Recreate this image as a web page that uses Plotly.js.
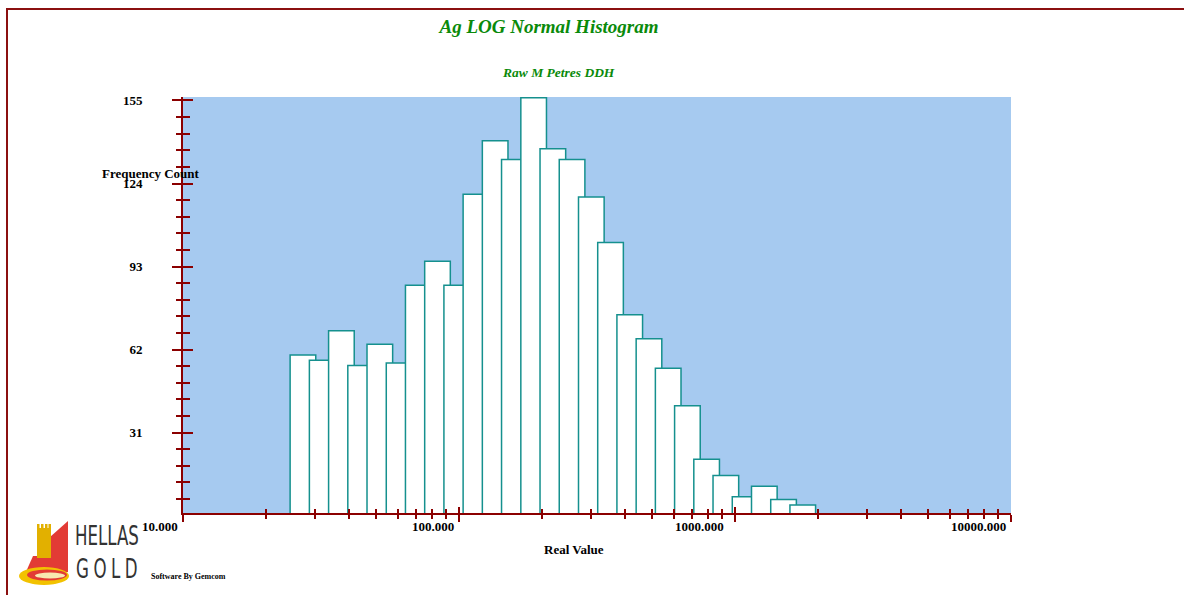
<!DOCTYPE html>
<html>
<head>
<meta charset="utf-8">
<script src="https://cdn.plot.ly/plotly-3.0.1.min.js"></script>
<style>
  html, body { margin: 0; padding: 0; background: #ffffff; }
  #wrap { position: relative; width: 1184px; height: 595px; }
  #chart { width: 1184px; height: 595px; }
  #frame { position: absolute; left: 6px; top: 8px; right: 0; bottom: 0;
           border-top: 2px solid #8B1010; border-left: 2px solid #8B1010;
           pointer-events: none; }
</style>
</head>
<body>
<div id="wrap">
  <div id="chart"></div>
  <div id="frame"></div>
</div>
<script>
// ---- data ----
const binLow = [24.44, 28.70, 33.69, 39.55, 46.42, 54.51, 63.97, 75.10, 88.18,
                103.5, 121.5, 142.6, 167.5, 196.6, 230.8, 271.0, 318.1, 373.4,
                438.4, 514.6, 604.1, 709.2, 832.5, 977.5, 1147.6, 1347.2, 1581.5];
const counts = [60, 58, 69, 56, 64, 57, 86, 95, 86,
                120, 140, 133, 156, 137, 133, 119, 102, 75,
                66, 55, 41, 21, 15, 7, 11, 6, 4];
const xTickVals = [10, 100, 1000, 10000];
const xTickText = ['10.000', '100.000', '1000.000', '10000.000'];
const yTickVals = [31, 62, 93, 124, 155];
const yTickText = ['31', '62', '93', '124', '155'];

const titleText = 'Ag LOG Normal Histogram';
const subtitleText = 'Raw M Petres DDH';
const xTitle = 'Real Value';
const yTitle = 'Frequency Count';

// ---- layout helpers ----
const W = 1184, H = 595;
const M = {l: 183, r: 173, t: 97, b: 82};
const PW = W - M.l - M.r, PH = H - M.t - M.b;
const px2paperX = px => (px - M.l) / PW;
const py2paperY = py => (H - M.b - py) / PH;

const axisRed = '#8B0000';
const serif = 'Liberation Serif, Times New Roman, serif';
const narrow = 'Liberation Sans Narrow, DejaVu Sans Condensed, Arial Narrow, sans-serif';
const green = '#0A8A0A';

const barSpanDecades = 0.0929;   // drawn bar width (bars overlap slightly)
const widths = binLow.map(v => v * (Math.pow(10, barSpanDecades) - 1));
const xLabelShift = [-3, -3, -9, -3];

const xMinor = [];
for (let d = 0; d < xTickVals.length - 1; d++) {
  for (let k = 2; k <= 9; k++) xMinor.push(k * xTickVals[d]);
}
const yStep = yTickVals[0] / 5;
const yMinor = [];
for (let i = 1; i * yStep < yTickVals[yTickVals.length - 1]; i++) {
  if (i % 5 !== 0) yMinor.push(+(i * yStep).toFixed(2));
}

const barTrace = {
  type: 'bar',
  x: binLow,
  y: counts,
  width: widths,
  offset: 0,
  marker: { color: '#FFFFFF', line: { color: '#15908E', width: 1.5 } },
  hoverinfo: 'skip',
  xaxis: 'x', yaxis: 'y'
};
const dummy = { type: 'scatter', x: [], y: [], xaxis: 'x2', yaxis: 'y2', hoverinfo: 'skip' };

const xRange = [Math.log10(xTickVals[0]), Math.log10(xTickVals[xTickVals.length - 1])];
const yRange = [0.97, 156.3];

const tickFont = { family: serif, size: 13, color: '#000', weight: 'bold' };

const annotations = [];
xTickVals.forEach((v, i) => {
  annotations.push({
    x: Math.log10(v), xref: 'x', y: py2paperY(526), yref: 'paper',
    text: xTickText[i], showarrow: false, xanchor: 'right', yanchor: 'middle',
    xshift: xLabelShift[i], font: tickFont
  });
});
annotations.push({ x: px2paperX(558), y: py2paperY(72), xref: 'paper', yref: 'paper',
  text: subtitleText, showarrow: false, xanchor: 'center', yanchor: 'middle',
  font: { family: serif, size: 13.5, color: green, weight: 'bold', style: 'italic' } });
annotations.push({ x: px2paperX(151), y: py2paperY(173), xref: 'paper', yref: 'paper',
  text: yTitle, showarrow: false, xanchor: 'center', yanchor: 'middle', font: tickFont });
annotations.push({ x: px2paperX(574), y: py2paperY(549), xref: 'paper', yref: 'paper',
  text: xTitle, showarrow: false, xanchor: 'center', yanchor: 'middle', font: tickFont });
annotations.push({ x: px2paperX(188), y: py2paperY(576), xref: 'paper', yref: 'paper',
  text: 'Software By Gemcom', showarrow: false, xanchor: 'center', yanchor: 'middle',
  font: { family: serif, size: 8, color: '#000', weight: 'bold' } });
annotations.push({ x: px2paperX(107), y: py2paperY(535.5), xref: 'paper', yref: 'paper',
  text: 'HELLAS', showarrow: false, xanchor: 'center', yanchor: 'middle',
  font: { family: narrow, size: 18.5, color: '#333333' } });
annotations.push({ x: px2paperX(109), y: py2paperY(568), xref: 'paper', yref: 'paper',
  text: 'GOLD', showarrow: false, xanchor: 'center', yanchor: 'middle',
  font: { family: narrow, size: 18.5, color: '#333333' } });

const logoSvg =
  "<svg xmlns='http://www.w3.org/2000/svg' viewBox='0 0 60 70' width='60' height='70'>" +
  "<polygon points='35,19 53,3 53,46 35,50' fill='#E23B35'/>" +
  "<polygon points='18,38 37,38 53,46 53,54 10,56' fill='#E23B35'/>" +
  "<rect x='22' y='10' width='14' height='30' fill='#E2B000'/>" +
  "<rect x='22' y='6' width='2.5' height='5' fill='#E2B000'/>" +
  "<rect x='26' y='6' width='2.5' height='5' fill='#E2B000'/>" +
  "<rect x='30' y='6' width='2.5' height='5' fill='#E2B000'/>" +
  "<rect x='33.5' y='6' width='2.5' height='5' fill='#E2B000'/>" +
  "<ellipse cx='29' cy='58' rx='25' ry='9' fill='#F2C200'/>" +
  "<ellipse cx='32' cy='57' rx='20' ry='5.5' fill='#E23B35'/>" +
  "<ellipse cx='35' cy='57.5' rx='15' ry='3' fill='#F8E9B0'/>" +
  "</svg>";

const layout = {
  width: W, height: H,
  margin: M,
  paper_bgcolor: '#FFFFFF',
  plot_bgcolor: '#A6CAF0',
  showlegend: false,
  barmode: 'overlay',
  hovermode: false,
  title: {
    text: titleText, x: 549 / W, xref: 'container', xanchor: 'center',
    y: 1 - 26 / H, yref: 'container', yanchor: 'middle',
    font: { family: serif, size: 19, color: green, weight: 'bold', style: 'italic' }
  },
  xaxis: {
    type: 'log', range: xRange, showgrid: false, zeroline: false,
    showline: true, linecolor: axisRed, linewidth: 2,
    ticks: 'outside', ticklen: 7, tickwidth: 2, tickcolor: axisRed,
    tickmode: 'array', tickvals: xTickVals, showticklabels: false,
    minor: { tickmode: 'array', tickvals: xMinor, ticks: 'outside', ticklen: 4, tickwidth: 2, tickcolor: axisRed, showgrid: false },
    fixedrange: true
  },
  xaxis2: {
    type: 'log', range: xRange, overlaying: 'x', anchor: 'y2', side: 'bottom',
    showgrid: false, zeroline: false, showline: false,
    ticks: 'inside', ticklen: 6, tickwidth: 2, tickcolor: axisRed,
    tickmode: 'array', tickvals: xTickVals, showticklabels: false,
    minor: { tickmode: 'array', tickvals: xMinor, ticks: 'inside', ticklen: 4, tickwidth: 2, tickcolor: axisRed, showgrid: false },
    fixedrange: true
  },
  yaxis: {
    range: yRange, showgrid: false, zeroline: false,
    showline: true, linecolor: axisRed, linewidth: 2,
    ticks: 'outside', ticklen: 9, tickwidth: 2, tickcolor: axisRed,
    tickmode: 'array', tickvals: yTickVals, ticktext: yTickText,
    tickfont: tickFont, ticklabelstandoff: 27,
    minor: { tickmode: 'array', tickvals: yMinor, ticks: 'outside', ticklen: 5, tickwidth: 2, tickcolor: axisRed, showgrid: false },
    fixedrange: true
  },
  yaxis2: {
    range: yRange, overlaying: 'y', anchor: 'x2', side: 'left',
    showgrid: false, zeroline: false, showline: false,
    ticks: 'inside', ticklen: 10, tickwidth: 2, tickcolor: axisRed,
    tickmode: 'array', tickvals: yTickVals, showticklabels: false,
    minor: { tickmode: 'array', tickvals: yMinor, ticks: 'inside', ticklen: 7, tickwidth: 2, tickcolor: axisRed, showgrid: false },
    fixedrange: true
  },
  annotations: annotations,
  images: [{
    source: 'data:image/svg+xml;charset=utf-8,' + encodeURIComponent(logoSvg),
    xref: 'paper', yref: 'paper',
    x: px2paperX(15), y: py2paperY(518),
    sizex: 60 / PW, sizey: 70 / PH,
    xanchor: 'left', yanchor: 'top', sizing: 'stretch', layer: 'above'
  }]
};

Plotly.newPlot('chart', [barTrace, dummy], layout, { staticPlot: true, displayModeBar: false })
  .then(() => {
    document.querySelectorAll('.annotation-text').forEach(t => {
      const txt = t.textContent;
      if (txt === 'HELLAS' || txt === 'GOLD') {
        if (txt === 'GOLD') t.style.letterSpacing = '4.5px';
        const bb = t.getBBox();
        const cy = bb.y + bb.height / 2;
        t.setAttribute('transform',
          'translate(0 ' + cy + ') scale(1 1.42) translate(0 ' + (-cy) + ')');
      }
    });
  });
</script>
</body>
</html>
